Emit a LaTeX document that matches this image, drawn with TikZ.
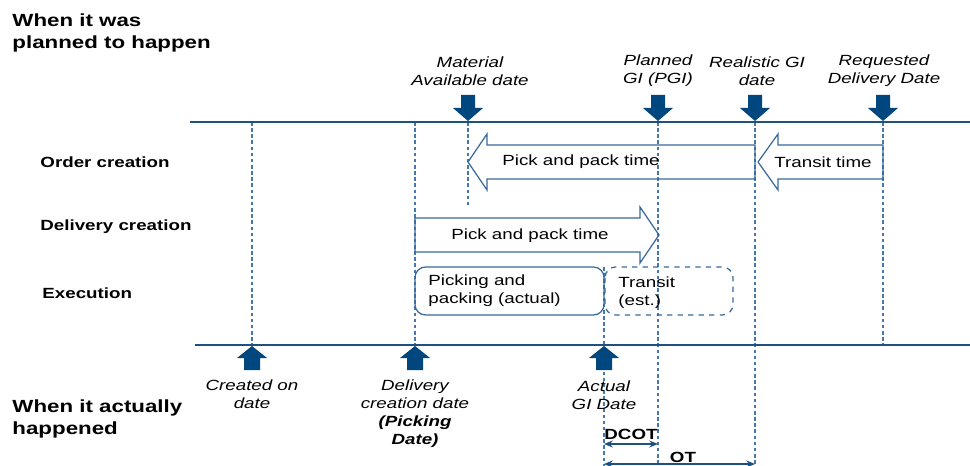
\documentclass[tikz,border=0pt]{standalone}
\usepackage{fontspec}
\setmainfont{Liberation Sans}
\usetikzlibrary{positioning,arrows.meta}
\definecolor{markblue}{RGB}{0,70,127}
\definecolor{lineblue}{RGB}{30,80,130}
\definecolor{dashblue}{RGB}{70,120,175}
\definecolor{boxblue}{RGB}{55,105,155}
\tikzset{
  >={Stealth[length=5pt,width=4pt]},
  txt/.style={inner sep=0pt, xscale=1.27, align=center, font=\fontsize{8.4}{10.2}\selectfont},
  date/.style={txt, font=\fontsize{8.4}{10.2}\selectfont\itshape},
  row/.style={txt, anchor=west, font=\fontsize{8.4}{10.2}\selectfont\bfseries},
  note/.style={txt, anchor=west, align=left},
  title/.style={txt, anchor=west, align=left, font=\fontsize{10}{13}\selectfont\bfseries},
  timeline/.style={draw=lineblue, line width=1.2pt},
  guide/.style={draw=dashblue, line width=0.6pt, dash pattern=on 2pt off 1.5pt},
  marker/.style={fill=markblue},
  span/.style={draw=boxblue, line width=0.7pt},
  measure/.style={<->, draw=lineblue, line width=0.7pt},
}

\begin{document}
\begin{tikzpicture}[x=0.02cm, y=-0.02cm]
    \useasboundingbox (0,0) rectangle (970,466);

    % headings
    \node[title] (planned) at (12,33) {When it was\\planned to happen};
    \node[title] (actually) at (12,419) {When it actually\\happened};
    \node[row] (order) at (40,162) {Order creation};
    \node[row] (delivery) at (40,227) {Delivery creation};
    \node[row] (execution) at (42,293) {Execution};

    % points in time
    \coordinate (created)    at (252,122);
    \coordinate (dlvcreated) at (415,122);
    \coordinate (matavail)   at (468,122);
    \coordinate (actualgi)   at (604,345);
    \coordinate (plannedgi)  at (658,122);
    \coordinate (realgi)     at (755,122);
    \coordinate (reqdel)     at (883,122);

    \draw[guide] (created) -- (created |- 0,345);
    \draw[guide] (dlvcreated) -- (dlvcreated |- 0,345);
    \draw[guide] (matavail) -- (matavail |- 0,205);
    \draw[guide] (plannedgi) -- (plannedgi |- 0,466);
    \draw[guide] (realgi) -- (realgi |- 0,466);
    \draw[guide] (reqdel) -- (reqdel |- 0,345);
    \draw[guide] (actualgi |- 0,267) -- (actualgi |- 0,466);

    \draw[timeline] (190,122) -- (970,122);
    \draw[timeline] (195,345) -- (970,345);

    % markers
    \foreach \x in {468,658,755,883}
      \fill[marker] (\x,121) -- ++(-15,-13) -- ++(8,0) -- ++(0,-13) -- ++(14,0)
        -- ++(0,13) -- ++(8,0) -- cycle;
    \foreach \x in {252,415,604}
      \fill[marker] (\x,346) -- ++(-15,12) -- ++(7,0) -- ++(0,12) -- ++(16,0)
        -- ++(0,-12) -- ++(7,0) -- cycle;

    \node[date] (matlbl) at (470,71) {Material\\Available date};
    \node[date] (pgilbl) at (658,71) {Planned\\GI (PGI)};
    \node[date] (rgilbl) at (757,71) {Realistic GI\\date};
    \node[date] (rddlbl) at (884,71) {Requested\\Delivery Date};
    \node[date] (crelbl) at (252,394) {Created on\\date};
    \node[date] (dcdlbl) at (415,414) {Delivery\\creation date\\\textbf{(Picking}\\\textbf{Date)}};
    \node[date] (agilbl) at (604,395) {Actual\\GI Date};

    % planned spans
    \draw[span] (755,145) -- (487,145) -- (487,134) -- (468,162) -- (487,190)
      -- (487,179) -- (755,179) -- cycle;
    \draw[span] (883,145) -- (778,145) -- (778,134) -- (758,162) -- (778,190)
      -- (778,179) -- (883,179) -- cycle;
    \draw[span] (415,218) -- (640,218) -- (640,207) -- (659,235) -- (640,263)
      -- (640,252) -- (415,252) -- cycle;
    \node[txt] (pickorder) at (581,162) {Pick and pack time};
    \node[txt] (transit) at (823,162) {Transit time};
    \node[txt] (pickdlv) at (530,236) {Pick and pack time};

    % execution
    \draw[span, rounded corners=6] (415,267) rectangle (604,315);
    \draw[span, dashed, rounded corners=6] (605,267) rectangle (733,315);
    \node[note] (picking) at (428,291) {Picking and\\packing (actual)};
    \node[note] (transest) at (618,293) {Transit\\(est.)};

    % lead times
    \draw[measure] (actualgi |- 0,444) -- (plannedgi |- 0,444);
    \draw[measure] (actualgi |- 0,464) -- (realgi |- 0,464);
    \node[row, anchor=center] (dcot) at (631,434) {DCOT};
    \node[row, anchor=center] (ot) at (683,457) {OT};
\end{tikzpicture}
\end{document}
